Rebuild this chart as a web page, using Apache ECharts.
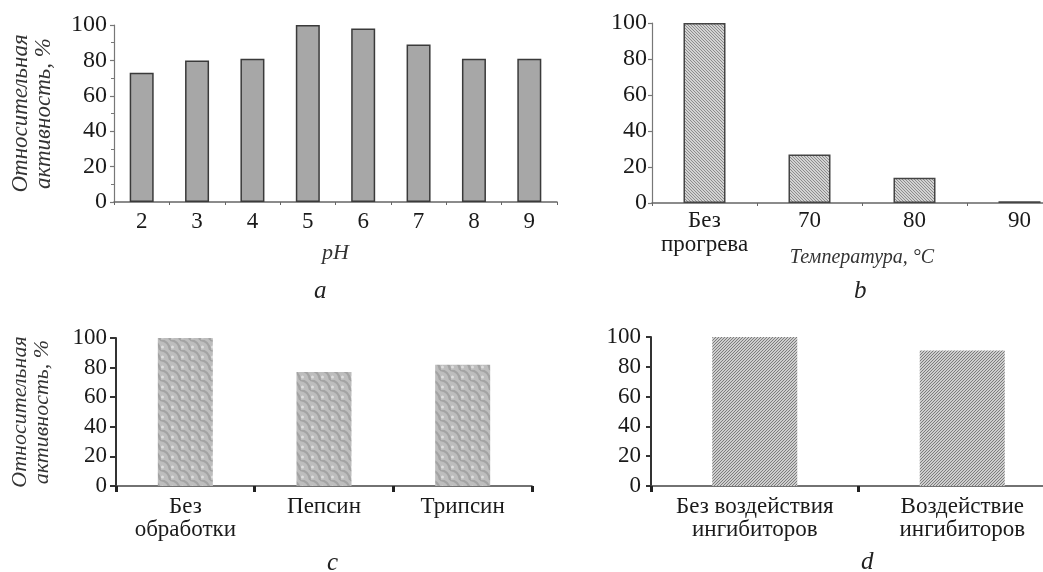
<!DOCTYPE html>
<html>
<head>
<meta charset="utf-8">
<script src="https://cdn.jsdelivr.net/npm/echarts@6/dist/echarts.min.js"></script>
<style>html,body{margin:0;padding:0;background:#fff;overflow:hidden;width:1043px;height:572px}#c{width:1100px;height:572px}</style>
</head>
<body>
<div id="c"></div>
<script>
// ---- Data ----
var phCategories = ['2', '3', '4', '5', '6', '7', '8', '9'];
var phValues = [73, 80, 81, 100, 98, 89, 81, 81];

var tempCategories = ['Без\nпрогрева', '70', '80', '90'];
var tempValues = [100, 27, 14, 1];

var enzymeCategories = ['Без\nобработки', 'Пепсин', 'Трипсин'];
var enzymeValues = [100, 77, 82];

var inhibCategories = ['Без воздействия\nингибиторов', 'Воздействие\nингибиторов'];
var inhibValues = [100, 91];

var yTicks = { min: 0, max: 100, interval: 20 };
var yName = 'Относительная\nактивность, %';
var panelLetters = ['a', 'b', 'c', 'd'];

// ---- Patterns ----
function hatch(bg, fg, dir, s, lw) {
  var c = document.createElement('canvas');
  c.width = s; c.height = s;
  var x = c.getContext('2d');
  x.fillStyle = bg; x.fillRect(0, 0, s, s);
  x.strokeStyle = fg; x.lineWidth = lw;
  for (var k = -1; k <= 1; k++) {
    x.beginPath();
    if (dir === '\\') { x.moveTo(k * s, 0); x.lineTo(k * s + s, s); }
    else { x.moveTo(k * s, s); x.lineTo(k * s + s, 0); }
    x.stroke();
  }
  return c;
}
function wave() {
  var s = 10;
  var c = document.createElement('canvas');
  c.width = s; c.height = s;
  var x = c.getContext('2d');
  x.fillStyle = '#bdbdbd'; x.fillRect(0, 0, s, s);
  x.strokeStyle = '#a3a3a3'; x.lineWidth = 2.2;
  for (var k = -1; k <= 1; k++) {
    x.beginPath();
    x.moveTo(k * s, 0);
    x.quadraticCurveTo(k * s + s * 0.9, s * 0.1, k * s + s, s);
    x.stroke();
  }
  x.fillStyle = 'rgba(225,225,225,0.9)';
  x.beginPath(); x.arc(s * 0.25, s * 0.7, 1.5, 0, Math.PI * 2); x.fill();
  return c;
}

var serif = '"Liberation Serif", "DejaVu Serif", serif';
var txt = '#1a1a1a';

function yAxis(i, opt) {
  var o = {
    gridIndex: i, type: 'value', min: yTicks.min, max: yTicks.max, interval: yTicks.interval,
    axisLine: { show: true, lineStyle: { color: opt.axisColor, width: opt.axisWidth } },
    axisTick: { show: true, length: opt.tickLen, lineStyle: { color: opt.axisColor, width: opt.axisWidth } },
    minorTick: { show: !!opt.minor, splitNumber: 2, length: 3, lineStyle: { color: '#777' } },
    splitLine: { show: false },
    axisLabel: { fontFamily: serif, fontSize: opt.fontSize, color: txt, margin: opt.labelMargin }
  };
  if (opt.name) {
    o.name = yName;
    o.nameLocation = 'middle';
    o.nameGap = opt.nameGap;
    o.nameMoveOverlap = false;
    o.nameTextStyle = { fontFamily: serif, fontStyle: 'italic', fontSize: opt.nameSize, color: '#333', lineHeight: opt.nameLH };
  }
  return o;
}
function xAxis(i, cats, opt) {
  var o = {
    gridIndex: i, type: 'category', data: cats,
    axisLine: { show: true, onZero: false, lineStyle: { color: opt.axisColor, width: opt.axisWidth } },
    axisTick: { show: true, length: opt.tickLen, lineStyle: { color: opt.tickColor || opt.axisColor, width: opt.tickWidth || 1 } },
    axisLabel: { fontFamily: serif, fontSize: opt.fontSize, color: txt, margin: opt.labelMargin, lineHeight: opt.lineHeight, interval: 0 }
  };
  if (opt.name) {
    o.name = opt.name;
    o.nameLocation = 'middle';
    o.nameGap = opt.nameGap;
    o.nameMoveOverlap = false;
    o.nameTextStyle = { fontFamily: serif, fontStyle: 'italic', fontSize: opt.nameSize, color: '#333' };
  }
  return o;
}

var chart = echarts.init(document.getElementById('c'), null, { renderer: 'canvas' });
var option = {
  animation: false,
  backgroundColor: '#fff',
  grid: [
    { left: 114, width: 443, top: 25, height: 177 },
    { left: 652, width: 420, top: 23, height: 180 },
    { left: 116, width: 416, top: 338, height: 148 },
    { left: 651, width: 415, top: 337, height: 149 }
  ],
  xAxis: [
    xAxis(0, phCategories, { axisColor: '#666', axisWidth: 1.5, tickLen: 3, fontSize: 23, labelMargin: 8, name: 'pH', nameGap: 40, nameSize: 22 }),
    xAxis(1, tempCategories, { axisColor: '#666', axisWidth: 1.5, tickLen: 3, fontSize: 23, labelMargin: 6, lineHeight: 24, name: 'Температура, °C', nameGap: 45, nameSize: 20 }),
    xAxis(2, enzymeCategories, { axisColor: '#444', axisWidth: 1.5, tickLen: 6, tickWidth: 3, tickColor: '#222', fontSize: 23, labelMargin: 9, lineHeight: 23 }),
    xAxis(3, inhibCategories, { axisColor: '#444', axisWidth: 1.5, tickLen: 6, tickWidth: 3, tickColor: '#222', fontSize: 23, labelMargin: 9, lineHeight: 23 })
  ],
  yAxis: [
    yAxis(0, { axisColor: '#777', axisWidth: 1.2, tickLen: 4, minor: true, fontSize: 24, labelMargin: 7, name: true, nameGap: 59, nameSize: 23, nameLH: 23 }),
    yAxis(1, { axisColor: '#777', axisWidth: 1.2, tickLen: 4, fontSize: 24, labelMargin: 5 }),
    yAxis(2, { axisColor: '#333', axisWidth: 2, tickLen: 6, fontSize: 23, labelMargin: 9, name: true, nameGap: 63, nameSize: 22, nameLH: 22 }),
    yAxis(3, { axisColor: '#333', axisWidth: 2, tickLen: 5, fontSize: 23, labelMargin: 10 })
  ],
  series: [
    { type: 'bar', xAxisIndex: 0, yAxisIndex: 0, data: phValues, barWidth: 24,
      itemStyle: { color: '#a7a7a7', borderColor: '#3a3a3a', borderWidth: 1.5 } },
    { type: 'bar', xAxisIndex: 1, yAxisIndex: 1, data: tempValues, barWidth: 42,
      itemStyle: { color: { image: hatch('#d2d2d2', '#8c8c8c', '\\', 3, 1), repeat: 'repeat' }, borderColor: '#444', borderWidth: 1.5 } },
    { type: 'bar', xAxisIndex: 2, yAxisIndex: 2, data: enzymeValues, barWidth: 55,
      itemStyle: { color: { image: wave(), repeat: 'repeat' } } },
    { type: 'bar', xAxisIndex: 3, yAxisIndex: 3, data: inhibValues, barWidth: 85,
      itemStyle: { color: { image: hatch('#cdcdcd', '#7c7c7c', '/', 3, 1), repeat: 'repeat' } } }
  ],
  graphic: [
    { type: 'text', left: 320 - 6, top: 279, style: { text: panelLetters[0], font: 'italic 25px ' + serif, fill: '#222' } },
    { type: 'text', left: 860 - 6, top: 279, style: { text: panelLetters[1], font: 'italic 25px ' + serif, fill: '#222' } },
    { type: 'text', left: 333 - 6, top: 551, style: { text: panelLetters[2], font: 'italic 25px ' + serif, fill: '#222' } },
    { type: 'text', left: 867 - 6, top: 550, style: { text: panelLetters[3], font: 'italic 25px ' + serif, fill: '#222' } }
  ]
};
chart.setOption(option);
</script>
</body>
</html>
